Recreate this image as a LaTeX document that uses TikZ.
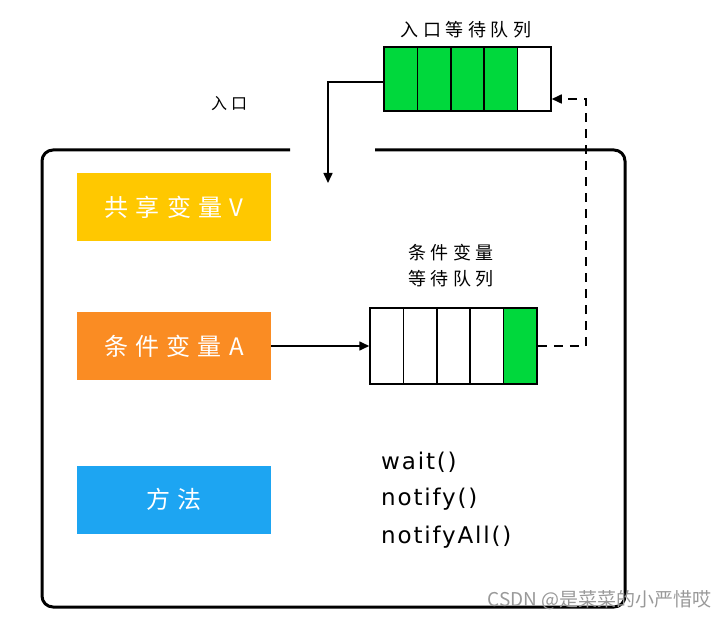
\documentclass[tikz,border=0pt]{standalone}
\usepackage{fontspec}
\newfontfamily\cjk[LetterSpace=25]{Noto Sans CJK SC}
\newfontfamily\cjkbig[LetterSpace=30]{Noto Sans CJK SC}
\newfontfamily\cjkplain{Noto Sans CJK SC}
\newfontfamily\latin[LetterSpace=8]{DejaVu Sans}
\usetikzlibrary{arrows.meta}
\definecolor{qgreen}{HTML}{00D83C}
\definecolor{vyellow}{HTML}{FFC800}
\definecolor{aorange}{HTML}{FA8C23}
\definecolor{mblue}{HTML}{1DA5F2}
\tikzset{
  cellbox/.style={draw=black, line width=1.5pt, inner sep=0pt, minimum width=33.4pt},
  ecell/.style={cellbox, minimum height=64pt},
  ccell/.style={cellbox, minimum height=76pt},
  colbox/.style={inner sep=0pt, minimum width=194pt, minimum height=68pt, text=white, font=\cjkbig\fontsize{24}{24}\selectfont},
  lbl/.style={font=\cjk\fontsize{18}{26}\selectfont, align=center, inner sep=0pt},
  arr/.style={line width=1.6pt, -{Triangle[length=10pt,width=9pt]}},
  darr/.style={line width=1.6pt, dash pattern=on 9pt off 7pt, -{Triangle[length=10pt,width=9pt]}},
  mtxt/.style={font=\latin\fontsize{23}{23}\selectfont, anchor=west, inner sep=0pt}
}
\begin{document}
\begin{tikzpicture}[x=1pt,y=-1pt]
\useasboundingbox (0,0) rectangle (728,620);
% main box
\draw[line width=3pt, rounded corners=11pt] (290,150) -- (42,150) -- (42,607) -- (625,607) -- (625,150) -- (375,150);
% entry queue
\node[ecell, fill=qgreen] (e1) at (400.7,79) {};
\node[ecell, fill=qgreen] (e2) at (434.1,79) {};
\node[ecell, fill=qgreen] (e3) at (467.5,79) {};
\node[ecell, fill=qgreen] (e4) at (500.9,79) {};
\node[ecell, fill=white] (e5) at (534.3,79) {};
\node[lbl] (elbl) at (466,30) {入口等待队列};
\node[font=\cjk\fontsize{16}{16}\selectfont, inner sep=0pt] (entry) at (229,104) {入口};
\coordinate (entryin) at (328,183);
\draw[arr] ([yshift=-3pt]e1.west) -| (entryin);
% colored boxes
\node[colbox, fill=vyellow] (v) at (174,207) {共享变量V};
\node[colbox, fill=aorange] (a) at (174,346) {条件变量A};
\node[colbox, fill=mblue] (m) at (174,499.5) {方法};
% condition queue
\node[ccell, fill=white] (c1) at (386.7,346) {};
\node[ccell, fill=white] (c2) at (420.1,346) {};
\node[ccell, fill=white] (c3) at (453.5,346) {};
\node[ccell, fill=white] (c4) at (486.9,346) {};
\node[ccell, fill=qgreen] (c5) at (520.3,346) {};
\node[lbl] (clbl) at (451,266) {条件变量\\等待队列};
\draw[arr] (a.east) -- (c1.west);
\draw[darr] (c5.east) -- ++(48,0) |- ([yshift=-20pt]e5.east);
% methods
\node[mtxt] (w) at (381,462) {wait()};
\node[mtxt] (n) at (381,499) {notify()};
\node[mtxt] (na) at (381,537) {notifyAll()};
% watermark
\node[font=\cjkplain\fontsize{19}{19}\selectfont, text=black!40, anchor=east, inner sep=0pt] (wm) at (712,600) {CSDN @是菜菜的小严惜哎};
\end{tikzpicture}
\end{document}
